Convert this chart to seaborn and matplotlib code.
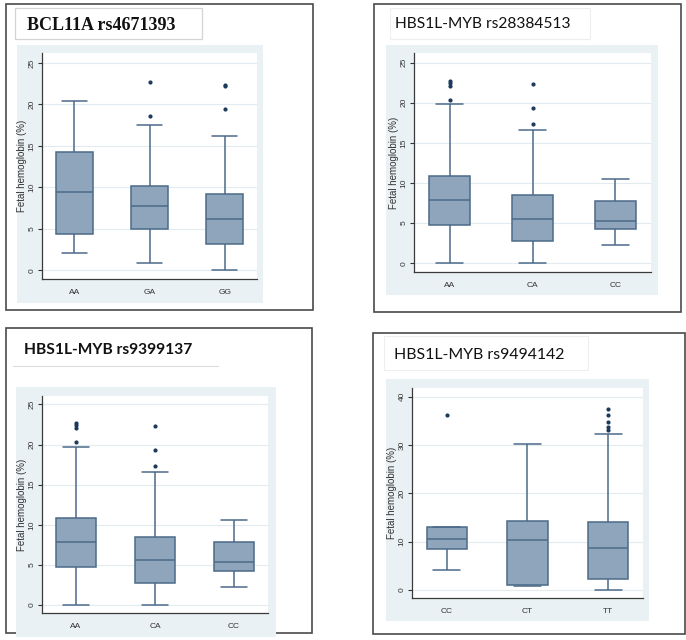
import numpy as np
import pandas as pd
import matplotlib
matplotlib.use("Agg")
import matplotlib.pyplot as plt
from matplotlib.patches import Rectangle
from matplotlib.lines import Line2D
import seaborn as sns

# values: low whisker, Q1, median, Q3, high whisker, outliers
# BCL11A rs4671393
bcl_geno = ["AA", "GA", "GG"]
bcl_low = [2.1, 0.9, 0.0]
bcl_q1 = [4.35, 5.0, 3.2]
bcl_med = [9.45, 7.7, 6.2]
bcl_q3 = [14.3, 10.2, 9.2]
bcl_high = [20.4, 17.5, 16.25]
bcl_out_geno = ["GA", "GA", "GG", "GG", "GG"]
bcl_out_val = [18.65, 22.65, 19.4, 22.25, 22.4]

# HBS1L-MYB rs28384513
rs283_geno = ["AA", "CA", "CC"]
rs283_low = [0.0, 0.0, 2.3]
rs283_q1 = [4.7, 2.75, 4.2]
rs283_med = [7.85, 5.55, 5.3]
rs283_q3 = [10.9, 8.5, 7.8]
rs283_high = [19.8, 16.6, 10.55]
rs283_out_geno = ["AA", "AA", "AA", "AA", "CA", "CA", "CA"]
rs283_out_val = [20.4, 22.1, 22.4, 22.7, 17.4, 19.4, 22.3]

# HBS1L-MYB rs9399137
rs939_geno = ["AA", "CA", "CC"]
rs939_low = [0.0, 0.0, 2.3]
rs939_q1 = [4.7, 2.75, 4.25]
rs939_med = [7.85, 5.55, 5.3]
rs939_q3 = [10.9, 8.5, 7.8]
rs939_high = [19.75, 16.55, 10.55]
rs939_out_geno = ["AA", "AA", "AA", "AA", "CA", "CA", "CA"]
rs939_out_val = [20.35, 22.1, 22.4, 22.7, 17.35, 19.3, 22.3]

# HBS1L-MYB rs9494142
rs949_geno = ["CC", "CT", "TT"]
rs949_low = [4.15, 0.75, 0.0]
rs949_q1 = [8.45, 1.05, 2.2]
rs949_med = [10.5, 10.25, 8.65]
rs949_q3 = [13.0, 14.3, 14.1]
rs949_high = [13.0, 30.2, 32.3]
rs949_out_geno = ["CC", "TT", "TT", "TT", "TT", "TT"]
rs949_out_val = [36.2, 33.2, 33.8, 34.8, 36.2, 37.4]

W, H = 686, 640
box_fill = "#8fa5bb"
box_line = "#4b6a89"
dot_col = "#1c3a5c"
panel_bg = "#eaf1f4"

sns.set_style("white")
plt.rcParams["font.family"] = ["Liberation Sans", "DejaVu Sans"]


def frac(x0, y0, x1, y1):
    return [x0 / W, 1 - y1 / H, (x1 - x0) / W, (y1 - y0) / H]


def rect(fig, x0, y0, x1, y1, **kw):
    l, b, w, h = frac(x0, y0, x1, y1)
    fig.add_artist(Rectangle((l, b), w, h, transform=fig.transFigure, **kw))


def draw_panel(fig, pos, geno, low, q1, med, q3, high, out_geno, out_val, yticks, ylim):
    ax = fig.add_axes(frac(*pos))
    df = pd.DataFrame({
        "genotype": np.repeat(geno, 5),
        "hbf": np.column_stack([low, q1, med, q3, high]).ravel(),
    })
    sns.boxplot(data=df, x="genotype", y="hbf", order=geno, whis=(0, 100),
                width=0.5, color=box_fill, linecolor=box_line, saturation=1,
                linewidth=1.1, fliersize=0, capwidths=0.33, ax=ax)
    sns.stripplot(x=out_geno, y=out_val, order=geno, jitter=False,
                  color=dot_col, size=3.0, ax=ax)
    ax.set_xlim(-0.43, 2.43)
    ax.set_ylim(*ylim)
    ax.set_yticks(yticks)
    ax.set_facecolor("white")
    ax.yaxis.grid(True, color="#e2ebf0", lw=0.8)
    ax.set_axisbelow(True)
    for s in ["top", "right"]:
        ax.spines[s].set_visible(False)
    for s in ["left", "bottom"]:
        ax.spines[s].set_color("#3a3a3a")
        ax.spines[s].set_linewidth(0.9)
    ax.tick_params(axis="y", left=True, direction="out", length=3, width=0.8,
                   colors="#333333", labelsize=6, labelrotation=90, pad=1.5)
    ax.tick_params(axis="x", length=0, labelsize=6, colors="#333333", pad=7)
    for t in ax.get_yticklabels():
        t.set_va("center")
    ax.set_xlabel("")
    ax.set_ylabel("Fetal hemoglobin (%)", fontsize=7, color="#333333", labelpad=1)
    return ax


fig = plt.figure(figsize=(W / 100, H / 100), dpi=100)
border = dict(fill=False, ec="#4a4a4a", lw=1.2, zorder=-3)
bg = dict(fc=panel_bg, ec="none", zorder=-2)

# panel 1
rect(fig, 6, 4, 313, 310, **border)
rect(fig, 15, 8, 202, 39, fc="white", ec="#d4d4d4", lw=0.9, zorder=-1)
rect(fig, 17, 45, 263, 303, **bg)
fig.text(27 / W, 1 - 25 / H, "BCL11A rs4671393", fontsize=13, fontweight="bold",
         family=["Liberation Serif", "DejaVu Serif"], va="center", color="#111111")
draw_panel(fig, (42, 53, 257, 279), bcl_geno, bcl_low, bcl_q1, bcl_med, bcl_q3,
           bcl_high, bcl_out_geno, bcl_out_val, [0, 5, 10, 15, 20, 25], (-1.05, 26.2))

# panel 2
rect(fig, 374, 4, 681, 312, **border)
rect(fig, 390, 8, 590, 39, fc="white", ec="#eeeeee", lw=0.8, zorder=-1)
rect(fig, 386, 45, 658, 295, **bg)
fig.text(395 / W, 1 - 24 / H, "HBS1L-MYB rs28384513", fontsize=11.2,
         family=["Lato", "DejaVu Sans"], va="center", color="#111111")
draw_panel(fig, (414, 53, 651, 272), rs283_geno, rs283_low, rs283_q1, rs283_med,
           rs283_q3, rs283_high, rs283_out_geno, rs283_out_val,
           [0, 5, 10, 15, 20, 25], (-1.1, 26.2))

# panel 3
rect(fig, 6, 328, 312, 633, **border)
l0, b0, w0, h0 = frac(13, 366, 218, 366)
fig.add_artist(Line2D([l0, l0 + w0], [b0, b0], transform=fig.transFigure,
                      color="#dddddd", lw=0.8))
rect(fig, 16, 387, 276, 637, **bg)
fig.text(24 / W, 1 - 350 / H, "HBS1L-MYB rs9399137", fontsize=11.2, fontweight="bold",
         family=["Lato", "DejaVu Sans"], va="center", color="#111111")
draw_panel(fig, (42, 396, 268, 613), rs939_geno, rs939_low, rs939_q1, rs939_med,
           rs939_q3, rs939_high, rs939_out_geno, rs939_out_val,
           [0, 5, 10, 15, 20, 25], (-1.0, 26.05))

# panel 4
rect(fig, 373, 333, 685, 634, **border)
rect(fig, 384, 336, 588, 370, fc="white", ec="#eeeeee", lw=0.8, zorder=-1)
rect(fig, 386, 379, 649, 621, **bg)
fig.text(394 / W, 1 - 355 / H, "HBS1L-MYB rs9494142", fontsize=11.4,
         family=["Lato", "DejaVu Sans"], va="center", color="#111111")
draw_panel(fig, (412, 388, 643, 598), rs949_geno, rs949_low, rs949_q1, rs949_med,
           rs949_q3, rs949_high, rs949_out_geno, rs949_out_val,
           [0, 10, 20, 30, 40], (-1.7, 41.8))

fig.savefig("out.png", dpi=100)
